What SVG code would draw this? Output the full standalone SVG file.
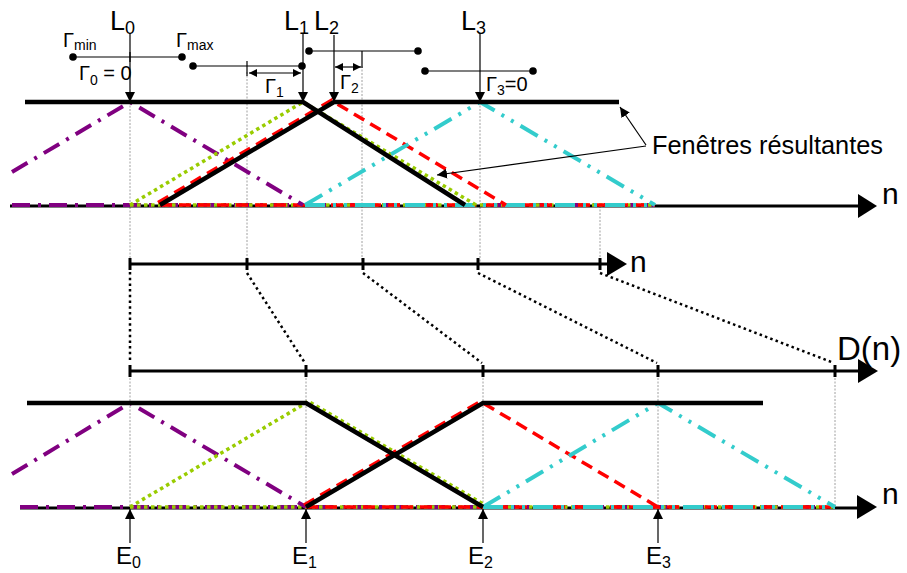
<svg xmlns="http://www.w3.org/2000/svg" width="907" height="573" viewBox="0 0 907 573">
<style>
text{font-family:"Liberation Sans",Arial,sans-serif;fill:#000}
.win{fill:none;stroke:#000;stroke-width:4.5;stroke-linejoin:miter}
.axis{fill:none;stroke:#000;stroke-width:3}
.pur{fill:none;stroke:#800080;stroke-width:4;stroke-dasharray:18 8 3 8}
.grn{fill:none;stroke:#99cc00;stroke-width:3.5;stroke-dasharray:3.5 3.5}
.red{fill:none;stroke:#ff0000;stroke-width:3.5;stroke-dasharray:12 7}
.cyn{fill:none;stroke:#33cccc;stroke-width:4;stroke-dasharray:20 8 3 8 3 8}
.guide{fill:none;stroke:#888;stroke-width:0.8;stroke-dasharray:2 1.5}
.map{fill:none;stroke:#000;stroke-width:2.5;stroke-dasharray:2.5 3.2}
.bar{fill:none;stroke:#555;stroke-width:1.5}
.thin{fill:none;stroke:#000;stroke-width:1.2}
.tick{stroke:#000;stroke-width:3}
</style>
<defs>
<marker id="ah" viewBox="0 0 10 10" refX="10" refY="5" markerWidth="10" markerHeight="10" markerUnits="userSpaceOnUse" orient="auto-start-reverse">
<path d="M0,0 L10,5 L0,10 z" fill="#000"/>
</marker>
<marker id="ahs" viewBox="0 0 10 10" refX="10" refY="5" markerWidth="8" markerHeight="8" markerUnits="userSpaceOnUse" orient="auto-start-reverse">
<path d="M0,0 L10,5 L0,10 z" fill="#000"/>
</marker>
</defs>

<!-- guide lines -->
<g id="guides">
<line class="guide" x1="130" y1="102" x2="130" y2="264"/>
<line class="guide" x1="247" y1="72" x2="247" y2="264"/>
<line class="guide" x1="362" y1="66" x2="362" y2="264"/>
<line class="guide" x1="480" y1="102" x2="480" y2="264"/>
<line class="guide" x1="600" y1="206" x2="600" y2="264"/>
<line class="guide" x1="130" y1="371" x2="130" y2="507"/>
<line class="guide" x1="306" y1="371" x2="306" y2="507"/>
<line class="guide" x1="483" y1="371" x2="483" y2="507"/>
<line class="guide" x1="658" y1="371" x2="658" y2="507"/>
<line class="guide" x1="835" y1="371" x2="835" y2="507"/>
</g>

<!-- top section -->
<g id="top-axis">
<line class="axis" x1="10" y1="206" x2="860" y2="206"/>
<path d="M858,194 L877,206 L858,218 z" fill="#000"/>
<text x="882" y="204" font-size="30">n</text>
</g>
<g id="top-curves">
<line class="pur" x1="12" y1="205" x2="655" y2="205"/>
<line class="grn" x1="130" y1="205" x2="655" y2="205"/>
<line class="red" x1="160" y1="205" x2="655" y2="205"/>
<line class="cyn" x1="305" y1="205" x2="655" y2="205"/>
<polyline class="pur" points="12,172 130,102 303,205"/>
<polyline class="grn" points="130,205 303,102 476,205"/>
<polyline class="red" points="158,202.5 332,100 334,102 506,205"/>
<polyline class="cyn" points="305,205 480,102 655,205"/>
</g>
<g id="top-windows">
<polyline class="win" points="25,102 303,102 465,205"/>
<polyline class="win" points="160,205 334,102 619,102"/>
</g>

<!-- gamma bars -->
<g id="bar0">
<line class="bar" x1="73" y1="57" x2="182" y2="57"/>
<circle cx="73" cy="57" r="3.8"/><circle cx="182" cy="57" r="3.8"/>
<line class="thin" x1="130" y1="52" x2="130" y2="62" stroke-width="2"/>
<text x="63" y="47" font-size="20">Γ<tspan font-size="14" dy="3">min</tspan></text>
<text x="176" y="47" font-size="20">Γ<tspan font-size="14" dy="3">max</tspan></text>
<text x="79" y="80" font-size="20">Γ<tspan font-size="14" dy="5">0</tspan><tspan dy="-5"> = 0</tspan></text>
</g>
<g id="bar1">
<line class="bar" x1="193" y1="66" x2="302" y2="66"/>
<circle cx="193" cy="66" r="3.8"/><circle cx="302" cy="66" r="3.8"/>
<line class="thin" x1="247" y1="61" x2="247" y2="76"/>
<line class="thin" x1="249" y1="73" x2="301" y2="73" marker-start="url(#ahs)" marker-end="url(#ahs)"/>
<text x="265" y="93" font-size="20">Γ<tspan font-size="14" dy="4">1</tspan></text>
</g>
<g id="bar2">
<line class="bar" x1="309" y1="51" x2="418" y2="51"/>
<circle cx="309" cy="51" r="3.8"/><circle cx="418" cy="51" r="3.8"/>
<line class="thin" x1="362" y1="51" x2="362" y2="68"/>
<line class="thin" x1="335" y1="67" x2="361" y2="67" marker-start="url(#ahs)" marker-end="url(#ahs)"/>
<text x="340" y="89" font-size="20">Γ<tspan font-size="14" dy="4">2</tspan></text>
</g>
<g id="bar3">
<line class="bar" x1="425" y1="71" x2="533" y2="71"/>
<circle cx="425" cy="71" r="3.8"/><circle cx="533" cy="71" r="3.8"/>
<text x="486" y="91" font-size="20">Γ<tspan font-size="14" dy="4">3</tspan><tspan dy="-4">=0</tspan></text>
</g>

<!-- L arrows -->
<g id="L0">
<text x="110" y="30" font-size="27">L<tspan font-size="18" dy="4">0</tspan></text>
<line class="thin" x1="130" y1="33" x2="130" y2="102" marker-end="url(#ah)"/>
</g>
<g id="L1">
<text x="284" y="30" font-size="27">L<tspan font-size="18" dy="4">1</tspan></text>
<line class="thin" x1="303" y1="33" x2="303" y2="102" marker-end="url(#ah)"/>
</g>
<g id="L2">
<text x="314" y="30" font-size="27">L<tspan font-size="18" dy="4">2</tspan></text>
<line class="thin" x1="334" y1="35" x2="334" y2="102" marker-end="url(#ah)"/>
</g>
<g id="L3">
<text x="461" y="30" font-size="27">L<tspan font-size="18" dy="4">3</tspan></text>
<line class="thin" x1="480" y1="33" x2="480" y2="102" marker-end="url(#ah)"/>
</g>

<!-- annotation -->
<g id="annotation">
<text x="652" y="154" font-size="26" textLength="231" lengthAdjust="spacingAndGlyphs">Fenêtres résultantes</text>
<line class="thin" x1="646" y1="145" x2="620" y2="107" marker-end="url(#ah)"/>
<line class="thin" x1="646" y1="146" x2="437" y2="175" marker-end="url(#ah)"/>
</g>

<!-- middle axes -->
<g id="mid-axis-n">
<line class="axis" x1="130" y1="264" x2="610" y2="264"/>
<path d="M607,252 L627,264 L607,276 z" fill="#000"/>
<line class="tick" x1="130" y1="258" x2="130" y2="270"/>
<line class="tick" x1="247" y1="258" x2="247" y2="270"/>
<line class="tick" x1="363" y1="258" x2="363" y2="270"/>
<line class="tick" x1="478" y1="258" x2="478" y2="270"/>
<line class="tick" x1="600" y1="258" x2="600" y2="270"/>
<text x="630" y="272" font-size="30">n</text>
</g>
<g id="mid-axis-D">
<line class="axis" x1="130" y1="371" x2="860" y2="371"/>
<path d="M858,359 L878,371 L858,383 z" fill="#000"/>
<line class="tick" x1="130" y1="365" x2="130" y2="377"/>
<line class="tick" x1="306" y1="365" x2="306" y2="377"/>
<line class="tick" x1="483" y1="365" x2="483" y2="377"/>
<line class="tick" x1="658" y1="365" x2="658" y2="377"/>
<line class="tick" x1="835" y1="365" x2="835" y2="377"/>
<text x="837" y="360" font-size="33">D(n)</text>
</g>
<g id="connectors">
<line class="map" x1="130" y1="272" x2="130" y2="362" stroke-width="4"/>
<line class="map" x1="247" y1="273" x2="305" y2="363"/>
<line class="map" x1="363" y1="273" x2="482" y2="363"/>
<line class="map" x1="478" y1="273" x2="657" y2="363"/>
<line class="map" x1="600" y1="273" x2="834" y2="363"/>
</g>

<!-- bottom section -->
<g id="bottom-axis">
<line class="axis" x1="20" y1="508" x2="860" y2="508"/>
<path d="M857,495 L877,507 L857,519 z" fill="#000"/>
<text x="882" y="504" font-size="30">n</text>
</g>
<g id="bottom-curves">
<line class="pur" x1="20" y1="507" x2="835" y2="507"/>
<line class="grn" x1="130" y1="507" x2="835" y2="507"/>
<line class="red" x1="306" y1="507" x2="835" y2="507"/>
<line class="cyn" x1="483" y1="507" x2="835" y2="507"/>
<polyline class="pur" points="12,474 130,403 306,507"/>
<polyline class="grn" points="130,507 306,403 308,401 485,505"/>
<polyline class="red" points="304,505 481,401 483,403 658,507"/>
<polyline class="cyn" points="483,507 658,403 835,507"/>
</g>
<g id="bottom-windows">
<polyline class="win" points="27,403 306,403 483,507"/>
<polyline class="win" points="306,507 483,403 763,403"/>
</g>

<g id="E0">
<line class="thin" x1="130" y1="543" x2="130" y2="509" marker-end="url(#ah)"/>
<text x="116" y="564" font-size="24">E<tspan font-size="16" dy="4">0</tspan></text>
</g>
<g id="E1">
<line class="thin" x1="306" y1="543" x2="306" y2="509" marker-end="url(#ah)"/>
<text x="292" y="564" font-size="24">E<tspan font-size="16" dy="4">1</tspan></text>
</g>
<g id="E2">
<line class="thin" x1="483" y1="543" x2="483" y2="509" marker-end="url(#ah)"/>
<text x="468" y="564" font-size="24">E<tspan font-size="16" dy="4">2</tspan></text>
</g>
<g id="E3">
<line class="thin" x1="658" y1="543" x2="658" y2="509" marker-end="url(#ah)"/>
<text x="646" y="564" font-size="24">E<tspan font-size="16" dy="4">3</tspan></text>
</g>
</svg>
